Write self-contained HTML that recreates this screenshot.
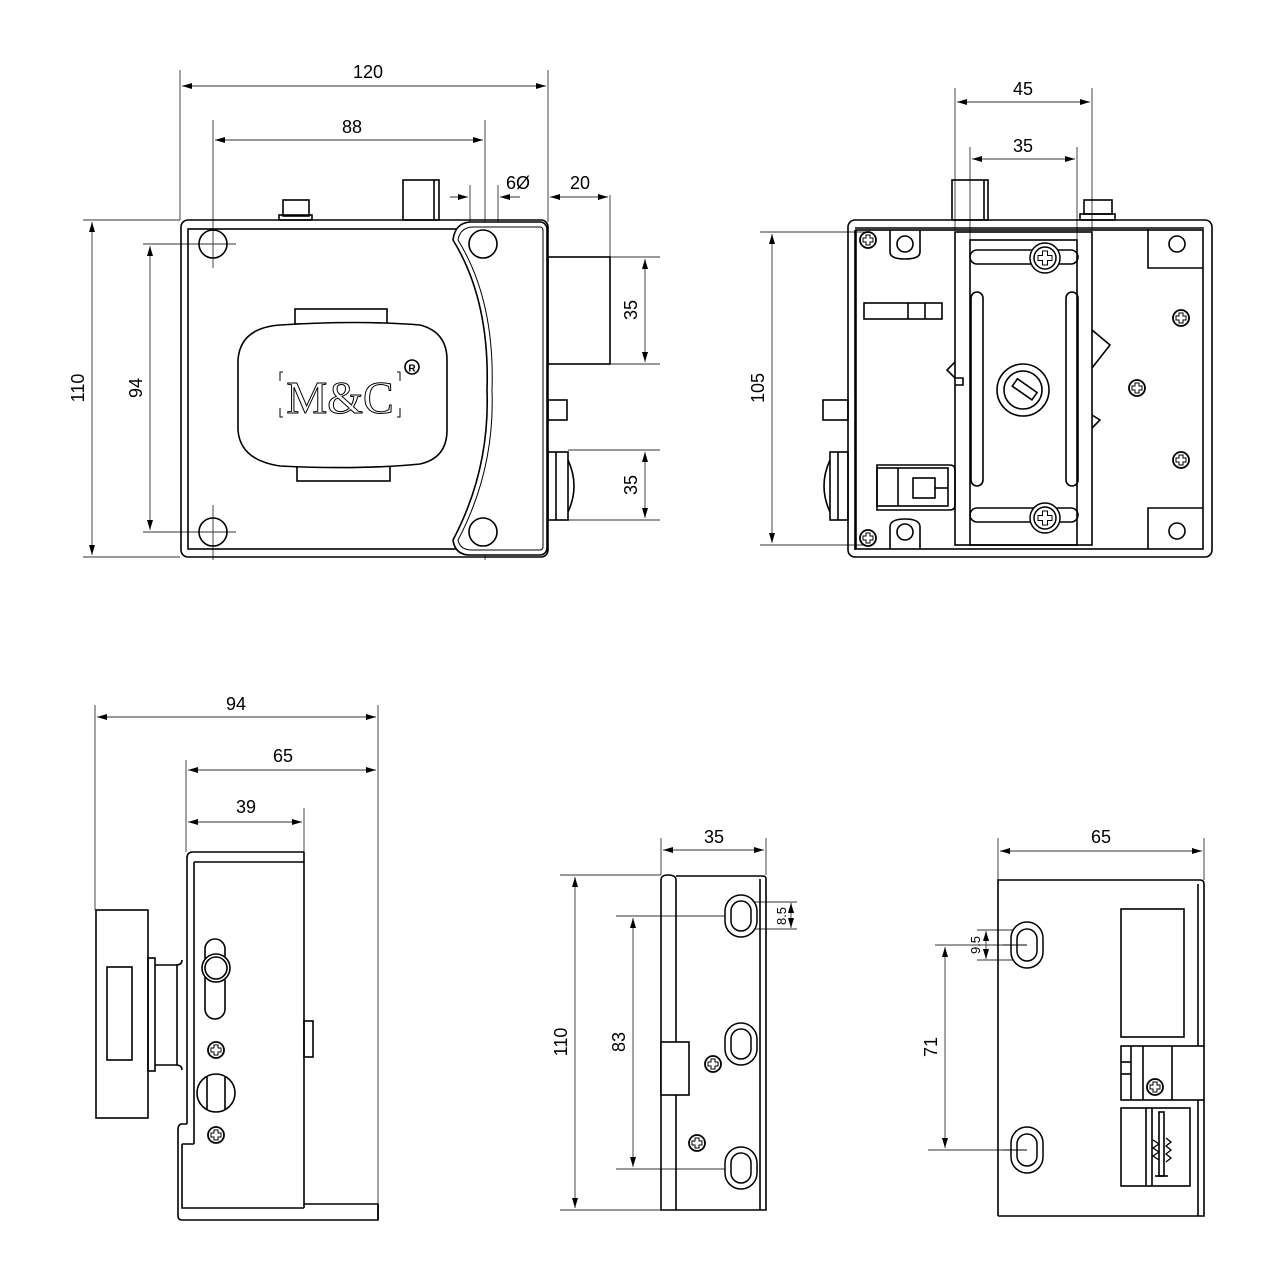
<!DOCTYPE html>
<html><head><meta charset="utf-8"><style>html,body{margin:0;padding:0;background:#fff}svg{display:block}</style></head>
<body>
<svg width="1280" height="1280" viewBox="0 0 1280 1280" xmlns="http://www.w3.org/2000/svg" font-family="Liberation Sans, sans-serif">
<defs>
<marker id="a" viewBox="0 0 10 6" refX="10" refY="3" markerWidth="10" markerHeight="6" orient="auto-start-reverse" markerUnits="userSpaceOnUse"><path d="M0,0L10,3L0,6z" fill="#000"/></marker>
<g id="scr"><circle r="8" fill="#fff" stroke="#000" stroke-width="1.8"/><path d="M-2,-5h4v3h3v4h-3v3h-4v-3h-3v-4h3z" fill="none" stroke="#000" stroke-width="1"/></g>
<g id="scrL"><circle r="15" fill="#fff" stroke="#000" stroke-width="1.5"/><circle r="11" fill="none" stroke="#000" stroke-width="1.5"/><path d="M-2.5,-7h5v4.5h4.5v5h-4.5v4.5h-5v-4.5h-4.5v-5h4.5z" fill="none" stroke="#000" stroke-width="1"/></g>
<g id="slot"><rect x="-16" y="-21" width="32" height="42" rx="16" fill="#fff" stroke="#000" stroke-width="1.5"/><rect x="-10" y="-15" width="20" height="30" rx="10" fill="none" stroke="#000" stroke-width="1.5"/></g>
</defs>

<g fill="none" stroke="#000">
<!-- ============ TOP LEFT VIEW ============ -->
<g stroke-width="0.9" stroke="#333">
<line x1="180" y1="70" x2="180" y2="220"/><line x1="548" y1="70" x2="548" y2="222"/>
<line x1="182" y1="86" x2="546" y2="86" marker-start="url(#a)" marker-end="url(#a)"/>
<line x1="213" y1="120" x2="213" y2="268"/><line x1="485" y1="120" x2="485" y2="268"/>
<line x1="215" y1="140" x2="483" y2="140" marker-start="url(#a)" marker-end="url(#a)"/>
<line x1="470" y1="185" x2="470" y2="262"/><line x1="498" y1="185" x2="498" y2="262"/>
<line x1="450" y1="197" x2="468" y2="197" marker-end="url(#a)"/><line x1="520" y1="197" x2="500" y2="197" marker-end="url(#a)"/>
<line x1="610" y1="195" x2="610" y2="257"/>
<line x1="550" y1="197" x2="608" y2="197" marker-start="url(#a)" marker-end="url(#a)"/>
<line x1="610" y1="257" x2="660" y2="257"/><line x1="610" y1="364" x2="660" y2="364"/>
<line x1="645" y1="259" x2="645" y2="362" marker-start="url(#a)" marker-end="url(#a)"/>
<line x1="568" y1="450" x2="660" y2="450"/><line x1="568" y1="520" x2="660" y2="520"/>
<line x1="645" y1="452" x2="645" y2="518" marker-start="url(#a)" marker-end="url(#a)"/>
<line x1="83" y1="220" x2="180" y2="220"/><line x1="83" y1="557" x2="180" y2="557"/>
<line x1="92" y1="222" x2="92" y2="555" marker-start="url(#a)" marker-end="url(#a)"/>
<line x1="143" y1="244" x2="236" y2="244"/><line x1="143" y1="532" x2="236" y2="532"/>
<line x1="150" y1="246" x2="150" y2="530" marker-start="url(#a)" marker-end="url(#a)"/>
<line x1="460" y1="244" x2="510" y2="244"/><line x1="460" y1="532" x2="510" y2="532"/>
<line x1="485" y1="500" x2="485" y2="560"/><line x1="213" y1="505" x2="213" y2="560"/>
</g>
<g stroke-width="1.6">
<rect x="181" y="220" width="367" height="337" rx="7"/>
<rect x="188" y="229" width="300" height="320"/>
<path d="M470,222 H540 a7,7 0 0 1 7,7 V548 a7,7 0 0 1 -7,7 H470 Q455,555 453,540 Q490,470 487,390 Q490,300 453,240 Q455,223 470,222z" fill="#fff"/>
<path d="M472,227 H540 a3,3 0 0 1 3,3 V547 a3,3 0 0 1 -3,3 H472 Q460,550 458,540 Q495,470 492,390 Q495,300 458,240 Q460,228 472,227z" stroke-width="1"/>
<circle cx="213" cy="244" r="14"/><circle cx="483" cy="244" r="14"/>
<circle cx="213" cy="532" r="14"/><circle cx="483" cy="532" r="14"/>
<rect x="295" y="309" width="92" height="15"/><rect x="297" y="466" width="93" height="15"/>
<path d="M280,325 Q360,320 420,325 Q447,332 447,360 V430 Q447,458 420,464 Q360,470 280,466 Q240,460 238,430 V360 Q240,328 280,325z" fill="#fff"/>
<rect x="283" y="200" width="26" height="16"/><rect x="279" y="215" width="33" height="5"/>
<rect x="403" y="180" width="36" height="40"/><line x1="434" y1="180" x2="434" y2="220"/>
<rect x="548" y="257" width="62" height="107"/>
<rect x="548" y="400" width="19" height="20"/>
<rect x="548" y="452" width="20" height="68"/><line x1="556" y1="452" x2="556" y2="520"/>
<path d="M568,460 Q580,486 568,512"/>
</g>
<g stroke-width="1">
<path d="M283,372h-3v9M283,417h-3v-9M397,372h3v9M397,417h3v-9"/>
</g>
<text x="340" y="413" font-family="Liberation Serif, serif" font-size="46" fill="#fff" stroke="#000" stroke-width="1" text-anchor="middle">M&amp;C</text>
<circle cx="412" cy="367" r="7" stroke-width="1.6"/>
<text x="412" y="371.5" font-size="10" font-weight="bold" fill="#000" stroke="none" text-anchor="middle">R</text>

<!-- ============ TOP RIGHT VIEW ============ -->
<g stroke-width="0.9" stroke="#333">
<line x1="955" y1="88" x2="955" y2="230"/><line x1="1092" y1="88" x2="1092" y2="230"/>
<line x1="957" y1="102" x2="1090" y2="102" marker-start="url(#a)" marker-end="url(#a)"/>
<line x1="970" y1="147" x2="970" y2="540"/><line x1="1077" y1="147" x2="1077" y2="540"/>
<line x1="972" y1="159" x2="1075" y2="159" marker-start="url(#a)" marker-end="url(#a)"/>
<line x1="760" y1="232" x2="870" y2="232"/><line x1="760" y1="545" x2="870" y2="545"/>
<line x1="772" y1="234" x2="772" y2="543" marker-start="url(#a)" marker-end="url(#a)"/>
</g>
<g stroke-width="1.6">
<rect x="952" y="180" width="36" height="40"/><line x1="984" y1="180" x2="984" y2="220"/>
<rect x="1084" y="200" width="28" height="14"/><rect x="1080" y="214" width="35" height="6"/>
<rect x="848" y="220" width="364" height="337" rx="7" fill="none"/>
<line x1="855" y1="228" x2="1204" y2="228"/><line x1="855" y1="230" x2="855" y2="550"/>
<rect x="856" y="230" width="347" height="319"/>
<rect x="955" y="232" width="137" height="313"/>
<rect x="970" y="240" width="107" height="305"/>
<rect x="970" y="250" width="108" height="14" rx="7"/><rect x="970" y="508" width="108" height="14" rx="7"/>
<rect x="971" y="292" width="12" height="194" rx="6"/><rect x="1066" y="292" width="12" height="194" rx="6"/>
<circle cx="1023" cy="390" r="26"/><circle cx="1023" cy="390" r="19"/>
<rect x="1012" y="384" width="24" height="9" transform="rotate(35 1023 390)"/>
<path d="M1148,229V268H1203M1148,549V508H1203"/>
<circle cx="1177" cy="244" r="8"/><circle cx="1177" cy="531" r="8"/>
<path d="M1092,330L1110,345L1092,368M1092,415L1100,420L1092,428"/>
<path d="M955,362L947,370L955,378M955,378H963V385H955"/>
<path d="M890,230V252Q890,259 905,259Q920,259 920,252V230"/>
<path d="M890,549V527Q890,519 905,519Q920,519 920,527V549"/>
<circle cx="905" cy="244" r="8"/><circle cx="905" cy="532" r="8"/>
<rect x="864" y="303" width="78" height="16"/><line x1="908" y1="303" x2="908" y2="319"/><line x1="925" y1="303" x2="925" y2="319"/>
<path d="M877,465H950Q955,465 955,470V505Q955,510 950,510H877z"/>
<rect x="877" y="468" width="71" height="38"/><line x1="898" y1="468" x2="898" y2="506"/>
<rect x="913" y="478" width="22" height="20"/><line x1="935" y1="488" x2="948" y2="488"/>
<rect x="823" y="400" width="25" height="20"/>
<rect x="830" y="452" width="18" height="68"/><line x1="838" y1="452" x2="838" y2="520"/>
<path d="M830,460Q818,486 830,512"/>
</g>
<use href="#scrL" x="1045" y="258"/><use href="#scrL" x="1045" y="518"/>
<use href="#scr" x="868" y="240"/><use href="#scr" x="868" y="538"/>
<use href="#scr" x="1181" y="318"/><use href="#scr" x="1137" y="388"/><use href="#scr" x="1181" y="460"/>

<!-- ============ BOTTOM LEFT VIEW ============ -->
<g stroke-width="0.9" stroke="#333">
<line x1="95" y1="705" x2="95" y2="910"/><line x1="378" y1="705" x2="378" y2="1210"/>
<line x1="97" y1="717" x2="376" y2="717" marker-start="url(#a)" marker-end="url(#a)"/>
<line x1="186" y1="760" x2="186" y2="852"/>
<line x1="188" y1="770" x2="376" y2="770" marker-start="url(#a)" marker-end="url(#a)"/>
<line x1="304" y1="808" x2="304" y2="852"/>
<line x1="188" y1="822" x2="302" y2="822" marker-start="url(#a)" marker-end="url(#a)"/>
</g>
<g stroke-width="1.6">
<path d="M187,858Q187,852 193,852H304"/><path d="M194,862H304"/>
<line x1="187" y1="858" x2="187" y2="1124"/><line x1="194" y1="862" x2="194" y2="1144"/>
<path d="M187,1124H182Q178,1124 178,1130V1216Q178,1220 182,1220H378V1204H304"/>
<path d="M182,1144H194M182,1144V1208H304"/>
<line x1="304" y1="852" x2="304" y2="1208"/>
<line x1="378" y1="1204" x2="378" y2="1220"/>
<rect x="96" y="910" width="52" height="208"/>
<rect x="107" y="967" width="25" height="93"/>
<rect x="148" y="958" width="7" height="113"/>
<path d="M155,965H176Q182,965 182,960M155,1065H176Q182,1065 182,1070"/>
<line x1="177" y1="965" x2="177" y2="1065"/>
<rect x="205" y="939" width="20" height="80" rx="10"/>
<circle cx="216" cy="968" r="14" fill="#fff"/><circle cx="216" cy="968" r="11"/>
<circle cx="216" cy="1093" r="19"/><line x1="207" y1="1077" x2="207" y2="1109"/><line x1="225" y1="1077" x2="225" y2="1109"/>
<rect x="304" y="1021" width="9" height="36"/>
</g>
<use href="#scr" x="216" y="1050"/><use href="#scr" x="216" y="1135"/>

<!-- ============ BOTTOM MIDDLE VIEW ============ -->
<g stroke-width="0.9" stroke="#333">
<line x1="661" y1="838" x2="661" y2="875"/><line x1="766" y1="838" x2="766" y2="875"/>
<line x1="663" y1="850" x2="764" y2="850" marker-start="url(#a)" marker-end="url(#a)"/>
<line x1="560" y1="875" x2="661" y2="875"/><line x1="560" y1="1210" x2="661" y2="1210"/>
<line x1="575" y1="877" x2="575" y2="1208" marker-start="url(#a)" marker-end="url(#a)"/>
<line x1="616" y1="916" x2="741" y2="916"/><line x1="616" y1="1169" x2="741" y2="1169"/>
<line x1="633" y1="918" x2="633" y2="1167" marker-start="url(#a)" marker-end="url(#a)"/>
<line x1="745" y1="902" x2="797" y2="902"/><line x1="745" y1="929" x2="797" y2="929"/>
<line x1="791" y1="903" x2="791" y2="928" marker-start="url(#a)" marker-end="url(#a)"/>
</g>
<g stroke-width="1.6">
<path d="M661,1210V880Q661,875 668,875Q676,875 676,880V1210z"/>
<path d="M676,876H763Q766,876 766,879V1210H676"/><line x1="760" y1="879" x2="760" y2="1210"/>
<rect x="661" y="1042" width="28" height="53" fill="#fff"/>
</g>
<use href="#slot" x="741" y="916"/><use href="#slot" x="741" y="1044"/><use href="#slot" x="741" y="1168"/>
<use href="#scr" x="713" y="1064"/><use href="#scr" x="697" y="1143"/>

<!-- ============ BOTTOM RIGHT VIEW ============ -->
<g stroke-width="0.9" stroke="#333">
<line x1="998" y1="838" x2="998" y2="880"/><line x1="1204" y1="838" x2="1204" y2="880"/>
<line x1="1000" y1="851" x2="1202" y2="851" marker-start="url(#a)" marker-end="url(#a)"/>
<line x1="935" y1="945" x2="1027" y2="945"/><line x1="928" y1="1150" x2="1027" y2="1150"/>
<line x1="945" y1="947" x2="945" y2="1148" marker-start="url(#a)" marker-end="url(#a)"/>
<line x1="977" y1="930" x2="1020" y2="930"/><line x1="977" y1="960" x2="1020" y2="960"/>
<line x1="986" y1="931" x2="986" y2="959" marker-start="url(#a)" marker-end="url(#a)"/>
</g>
<g stroke-width="1.6">
<path d="M998,1216V880H1200Q1204,880 1204,884V1046"/>
<line x1="1198" y1="884" x2="1198" y2="1046"/>
<path d="M998,1216H1204V1100"/><line x1="1198" y1="1100" x2="1198" y2="1216"/>
<rect x="1121" y="909" width="63" height="128"/>
<rect x="1121" y="1046" width="83" height="54"/>
<line x1="1143" y1="1046" x2="1143" y2="1100"/><line x1="1172" y1="1046" x2="1172" y2="1100"/>
<line x1="1121" y1="1062" x2="1131" y2="1062"/><line x1="1121" y1="1074" x2="1131" y2="1074"/><line x1="1131" y1="1046" x2="1131" y2="1100"/>
<rect x="1121" y="1108" width="69" height="78"/>
<line x1="1146" y1="1108" x2="1146" y2="1186"/><line x1="1152" y1="1108" x2="1152" y2="1186"/>
<rect x="1159" y="1112" width="5" height="64"/><line x1="1155" y1="1176" x2="1168" y2="1176"/>
<path d="M1153,1140l6,4l-6,4l6,4l-6,4l6,4 M1166,1138l5,4l-5,4l5,4l-5,4l5,4l-5,4" stroke-width="1.3"/>
</g>
<g transform="translate(0,0)">
<rect x="1011" y="922" width="32" height="46" rx="16" fill="#fff" stroke-width="1.5"/><rect x="1017" y="929" width="20" height="32" rx="10" stroke-width="1.5"/>
<rect x="1011" y="1127" width="32" height="46" rx="16" fill="#fff" stroke-width="1.5"/><rect x="1017" y="1134" width="20" height="32" rx="10" stroke-width="1.5"/>
</g>
<line x1="1003" y1="945" x2="1027" y2="945" stroke-width="0.9"/><line x1="1003" y1="1150" x2="1027" y2="1150" stroke-width="0.9"/>
</g>
<use href="#scr" x="1155" y="1087"/>

<!-- ============ TEXT ============ -->
<g font-size="18" fill="#000" text-anchor="middle">
<text x="368" y="78">120</text>
<text x="352" y="133">88</text>
<text x="518" y="189">6Ø</text>
<text x="580" y="189">20</text>
<text x="1023" y="95">45</text>
<text x="1023" y="152">35</text>
<text x="236" y="710">94</text>
<text x="283" y="762">65</text>
<text x="246" y="813">39</text>
<text x="714" y="843">35</text>
<text x="1101" y="843">65</text>
<text transform="translate(637,310) rotate(-90)">35</text>
<text transform="translate(637,485) rotate(-90)">35</text>
<text transform="translate(84,388) rotate(-90)">110</text>
<text transform="translate(142,388) rotate(-90)">94</text>
<text transform="translate(764,388) rotate(-90)">105</text>
<text transform="translate(567,1042) rotate(-90)">110</text>
<text transform="translate(625,1042) rotate(-90)">83</text>
<text transform="translate(937,1047) rotate(-90)">71</text>
<text font-size="13" transform="translate(786,916) rotate(-90)">8.5</text>
<text font-size="13" transform="translate(980,945) rotate(-90)">9.5</text>
</g>
</svg>
</body></html>
